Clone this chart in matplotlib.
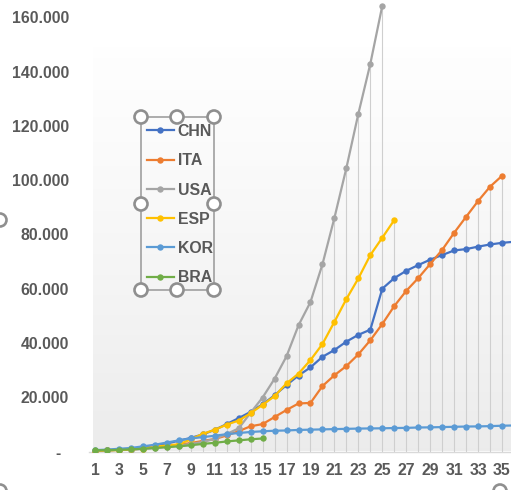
"""Cumulative cases per country by day, Excel-style line chart with drop lines."""

import matplotlib

matplotlib.use("Agg")
import matplotlib.pyplot as plt
import numpy as np
from matplotlib import font_manager
from matplotlib.patches import Circle, Rectangle
from matplotlib.transforms import ScaledTranslation

DAYS = list(range(1, 37))
CHN = [300, 450, 650, 950, 1400, 2100, 2900, 4000, 5000, 6300, 8000, 10100,
       12300, 14600, 17400, 20700, 24500, 28000, 31000, 34900, 37400, 40500,
       43000, 44900, 60000, 63900, 66600, 68700, 70700, 72400, 74100, 74600,
       75500, 76300, 76900, 77300]
ITA = [350, 450, 650, 900, 1150, 1700, 2050, 2500, 3100, 3900, 4600, 5900,
       7500, 9300, 10100, 12700, 15300, 17700, 17900, 24100, 28100, 31500,
       35800, 41000, 47000, 53600, 59200, 63900, 69100, 74300, 80600, 86500,
       92300, 97600, 101600]
USA = [300, 420, 540, 620, 960, 1300, 1700, 2200, 2750, 3500, 4650, 6450,
       8500, 14300, 19900, 26800, 35100, 46500, 55100, 69000, 86100, 104500,
       124500, 142900, 164300]
ESP = [300, 400, 550, 750, 1100, 1700, 2300, 2600, 4500, 6500, 8000, 9900,
       11400, 14100, 17200, 20400, 25100, 28700, 33700, 39600, 47800, 56200,
       63800, 72400, 78800, 85300]
KOR = [500, 700, 1000, 1300, 1900, 2500, 3300, 4100, 4800, 5300, 5800, 6400,
       6800, 7200, 7450, 7650, 7750, 7950, 8050, 8150, 8250, 8350, 8450, 8500,
       8550, 8650, 8700, 8850, 8900, 9000, 9100, 9200, 9250, 9350, 9500, 9600]
BRA = [400, 500, 600, 800, 1000, 1300, 1600, 1900, 2300, 2800, 3200, 3700,
       4100, 4500, 4800]

SERIES = ["CHN", "ITA", "USA", "ESP", "KOR", "BRA"]
VALUES = [CHN, ITA, USA, ESP, KOR, BRA]
COLORS = ["#4472c4", "#ed7d31", "#a5a5a5", "#ffc000", "#5b9bd5", "#70ad47"]

Y_TICKS = list(range(0, 160001, 20000))
Y_LABELS = ["-"] + [f"{v // 1000}.000" for v in Y_TICKS[1:]]
X_TICKS = DAYS[::2][:18]

TEXT = "#595959"
W, H = 511, 490


def pick_font(*names):
    have = {f.name for f in font_manager.fontManager.ttflist}
    for name in names:
        if name in have:
            return name
    return "DejaVu Sans"


NUM_FONT = pick_font("Liberation Sans", "Arial", "DejaVu Sans")
LEG_FONT = pick_font("Liberation Sans Narrow", "Liberation Sans", "DejaVu Sans")


def px(x, y):
    """Pixel position (from top-left) to inches for dpi_scale_trans."""
    return x / 100, (H - y) / 100


fig = plt.figure(figsize=(W / 100, H / 100), dpi=100)
fig.patch.set_facecolor("white")
ax = fig.add_axes([89 / W, (H - 451.5) / H, (W - 89) / W, 451.5 / H])
ax.set_facecolor("white")

x_max, y_max = 35.75, 166400

# plot-area gradient, very soft at the top
grad = np.linspace(0.0, 1.0, 256)[:, None] ** 1.2
top_c = np.array([0.997, 0.997, 0.997])
bot_c = np.array([0.925, 0.925, 0.925])
img = top_c + (bot_c - top_c) * grad
img = np.repeat(img[:, None, :], 2, axis=1)
ax.imshow(img, extent=[0.8, x_max, 0, 148700], aspect="auto", zorder=0,
          interpolation="bilinear")

# drop lines up to the highest series at each day
table = np.full((len(VALUES), len(DAYS)), np.nan)
for i, vals in enumerate(VALUES):
    table[i, : len(vals)] = vals
tops = np.nanmax(table, axis=0)
ax.vlines(DAYS, 0, tops, color="#cfcfcf", linewidth=0.8, zorder=1)

lines = []
for name, vals, color in zip(SERIES, VALUES, COLORS):
    (ln,) = ax.plot(DAYS[: len(vals)], vals, color=color, linewidth=1.6,
                    marker="o", markersize=4.6, markeredgewidth=0,
                    label=name, zorder=3, solid_joinstyle="round")
    lines.append(ln)

ax.set_xlim(0.5, x_max)
ax.set_ylim(0, y_max)
ax.set_xticks(X_TICKS)
ax.set_xticklabels([str(d) for d in X_TICKS])
ax.set_yticks(Y_TICKS)
ax.set_yticklabels(Y_LABELS)
ax.tick_params(axis="x", length=0, pad=8.5, colors=TEXT)
ax.tick_params(axis="y", length=0, pad=14.5, colors=TEXT)
for lab in ax.get_xticklabels() + ax.get_yticklabels():
    lab.set_fontfamily(NUM_FONT)
    lab.set_fontweight("bold")
    lab.set_fontsize(11.4)
zero = ax.get_yticklabels()[0]
zero.set_transform(zero.get_transform()
                   + ScaledTranslation(-0.08, 0, fig.dpi_scale_trans))

for side in ("top", "right", "left"):
    ax.spines[side].set_visible(False)
ax.spines["bottom"].set_color("#d9d9d9")
ax.spines["bottom"].set_linewidth(1.0)
ax.spines["bottom"].set_zorder(2)

# legend, placed inside a selected frame
leg = fig.legend(handles=lines, loc="upper left",
                 bbox_to_anchor=px(147, 124), bbox_transform=fig.dpi_scale_trans,
                 frameon=False, borderpad=0, borderaxespad=0,
                 handlelength=1.7, handletextpad=0.25, labelspacing=0.9,
                 prop={"family": LEG_FONT, "weight": "bold", "size": 11.4})
for t in leg.get_texts():
    t.set_color(TEXT)

x0, y0 = px(141, 290)
fig.add_artist(Rectangle((x0, y0), 73 / 100, 173 / 100,
                         transform=fig.dpi_scale_trans, fill=False,
                         edgecolor="#a6a6a6", linewidth=1.3, zorder=5))

handles = [(141, 117), (177, 117), (214, 117), (141, 204), (214, 204),
           (141, 290), (177, 290), (214, 290), (0, 220), (0, 491), (500, 491)]
for hx, hy in handles:
    fig.add_artist(Circle(px(hx, hy), 6.5 / 100, transform=fig.dpi_scale_trans,
                          facecolor="white", edgecolor="#8f8f8f",
                          linewidth=1.9, zorder=6))

fig.savefig("out.png", dpi=100, facecolor="white")
plt.close(fig)
